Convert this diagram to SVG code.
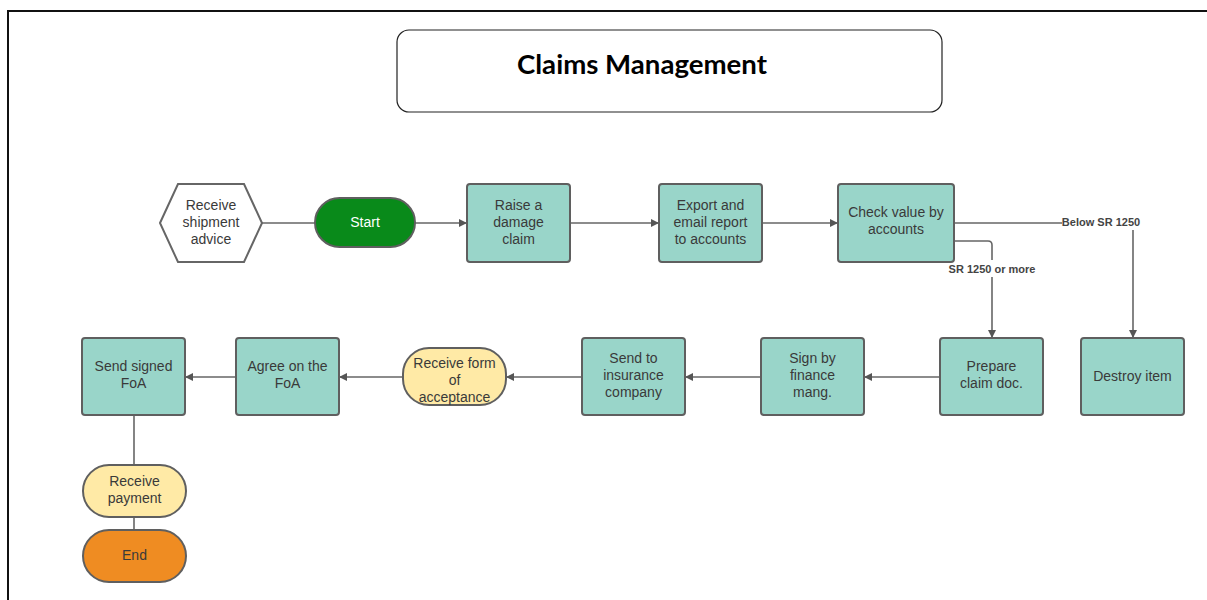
<svg xmlns="http://www.w3.org/2000/svg" width="1207" height="600" viewBox="0 0 1207 600">
  <defs>
    <marker id="arrow" viewBox="0 0 10 10" refX="10" refY="5" markerWidth="10" markerHeight="8" markerUnits="userSpaceOnUse" orient="auto">
      <path d="M0,0 L10,5 L0,10 z" fill="#555"/>
    </marker>
    <style>
      .proc { fill: #99d5c9; stroke: #5f5f5f; stroke-width: 2; }
      .term { stroke: #5f5f5f; stroke-width: 2; }
      .lbl { font-family: "Liberation Sans", Arial, sans-serif; font-size: 14px; fill: #3a3a3a; text-anchor: middle; }
      .edge { fill: none; stroke: #666; stroke-width: 1.6; }
      .elbl { font-family: "Liberation Sans", Arial, sans-serif; font-size: 11px; font-weight: bold; fill: #444; text-anchor: middle; }
    </style>
  </defs>

  <rect x="0" y="0" width="1207" height="600" fill="#fff"/>
  <!-- page frame -->
  <rect x="8" y="11" width="1215" height="610" fill="none" stroke="#111" stroke-width="2"/>

  <!-- title -->
  <g id="title">
    <rect x="397" y="30" width="545" height="82" rx="12" fill="#fff" stroke="#222" stroke-width="1.2"/>
    <text x="642" y="74" font-family="Lato, 'Liberation Sans', sans-serif" font-size="26" font-weight="bold" fill="#000" text-anchor="middle" textLength="250" lengthAdjust="spacingAndGlyphs">Claims Management</text>
  </g>

  <!-- connectors -->
  <g id="connectors">
    <path class="edge" d="M262,223 H315"/>
    <path class="edge" d="M415,223 H467" marker-end="url(#arrow)"/>
    <path class="edge" d="M570,223 H659" marker-end="url(#arrow)"/>
    <path class="edge" d="M762,223 H838" marker-end="url(#arrow)"/>
    <path class="edge" d="M954,223 H1062"/>
    <path class="edge" d="M1133,230 V338" marker-end="url(#arrow)"/>
    <text class="elbl" x="1101" y="226">Below SR 1250</text>
    <path class="edge" d="M954,241 H988 Q992,241 992,245 V260"/>
    <path class="edge" d="M992,277 V338" marker-end="url(#arrow)"/>
    <text class="elbl" x="992" y="273">SR 1250 or more</text>
    <path class="edge" d="M940,377 H864" marker-end="url(#arrow)"/>
    <path class="edge" d="M761,377 H685" marker-end="url(#arrow)"/>
    <path class="edge" d="M582,377 H506" marker-end="url(#arrow)"/>
    <path class="edge" d="M403,377 H339" marker-end="url(#arrow)"/>
    <path class="edge" d="M236,377 H185" marker-end="url(#arrow)"/>
    <path class="edge" d="M134,415 V465"/>
    <path class="edge" d="M134,517 V530"/>
  </g>

  <g id="receive-shipment">
    <polygon points="160,223 178,184 244,184 262,223 244,262 178,262" fill="#fff" stroke="#666" stroke-width="2"/>
    <text class="lbl" x="211" y="210">Receive</text>
    <text class="lbl" x="211" y="227">shipment</text>
    <text class="lbl" x="211" y="244">advice</text>
  </g>

  <g id="start">
    <rect class="term" x="315" y="198" width="100" height="49" rx="24.5" fill="#098a1a" stroke="#0a6f15"/>
    <text class="lbl" x="365" y="227" style="fill:#fff">Start</text>
  </g>

  <g id="raise-claim">
    <rect class="proc" x="467" y="184" width="103" height="78" rx="3"/>
    <text class="lbl" x="518.5" y="210">Raise a</text>
    <text class="lbl" x="518.5" y="227">damage</text>
    <text class="lbl" x="518.5" y="244">claim</text>
  </g>

  <g id="export-report">
    <rect class="proc" x="659" y="184" width="103" height="78" rx="3"/>
    <text class="lbl" x="710.5" y="210">Export and</text>
    <text class="lbl" x="710.5" y="227">email report</text>
    <text class="lbl" x="710.5" y="244">to accounts</text>
  </g>

  <g id="check-value">
    <rect class="proc" x="838" y="184" width="116" height="78" rx="3"/>
    <text class="lbl" x="896" y="217">Check value by</text>
    <text class="lbl" x="896" y="234">accounts</text>
  </g>

  <g id="prepare-claim">
    <rect class="proc" x="940" y="338" width="103" height="77" rx="3"/>
    <text class="lbl" x="991.5" y="371">Prepare</text>
    <text class="lbl" x="991.5" y="388">claim doc.</text>
  </g>

  <g id="destroy-item">
    <rect class="proc" x="1081" y="338" width="103" height="77" rx="3"/>
    <text class="lbl" x="1132.5" y="381">Destroy item</text>
  </g>

  <g id="sign-finance">
    <rect class="proc" x="761" y="338" width="103" height="77" rx="3"/>
    <text class="lbl" x="812.5" y="363">Sign by</text>
    <text class="lbl" x="812.5" y="380">finance</text>
    <text class="lbl" x="812.5" y="397">mang.</text>
  </g>

  <g id="send-insurance">
    <rect class="proc" x="582" y="338" width="103" height="77" rx="3"/>
    <text class="lbl" x="633.5" y="363">Send to</text>
    <text class="lbl" x="633.5" y="380">insurance</text>
    <text class="lbl" x="633.5" y="397">company</text>
  </g>

  <g id="receive-form">
    <rect class="term" x="403" y="348" width="103" height="57" rx="26" fill="#ffeaa6"/>
    <text class="lbl" x="454.5" y="368">Receive form</text>
    <text class="lbl" x="454.5" y="385">of</text>
    <text class="lbl" x="454.5" y="402">acceptance</text>
  </g>

  <g id="agree-foa">
    <rect class="proc" x="236" y="338" width="103" height="77" rx="3"/>
    <text class="lbl" x="287.5" y="371">Agree on the</text>
    <text class="lbl" x="287.5" y="388">FoA</text>
  </g>

  <g id="send-signed">
    <rect class="proc" x="82" y="338" width="103" height="77" rx="3"/>
    <text class="lbl" x="133.5" y="371">Send signed</text>
    <text class="lbl" x="133.5" y="388">FoA</text>
  </g>

  <g id="receive-payment">
    <rect class="term" x="83" y="465" width="103" height="52" rx="26" fill="#ffeaa6"/>
    <text class="lbl" x="134.5" y="486">Receive</text>
    <text class="lbl" x="134.5" y="503">payment</text>
  </g>

  <g id="end">
    <rect class="term" x="83" y="530" width="103" height="52" rx="26" fill="#ef8c22"/>
    <text class="lbl" x="134.5" y="560">End</text>
  </g>
</svg>
